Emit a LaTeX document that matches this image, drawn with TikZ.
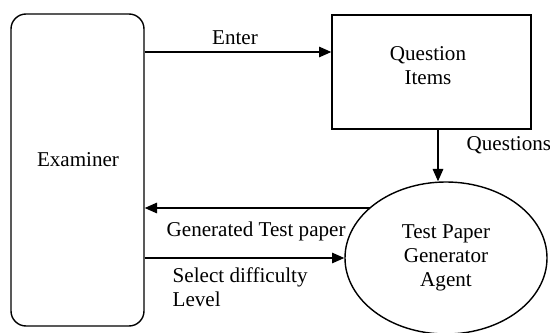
\documentclass[tikz,border=0pt]{standalone}
\usepackage{fontspec}
\setmainfont{Liberation Serif}
\usetikzlibrary{arrows.meta,shapes.geometric}
\tikzset{
  flow/.style={-{Triangle[length=7pt,width=6pt]}},
  entity/.style={draw,rounded corners=0.3cm,minimum width=2.66cm,minimum height=6.24cm},
  store/.style={draw,minimum width=3.98cm,minimum height=2.28cm},
  agentshape/.style={draw,ellipse,minimum width=4.04cm,minimum height=3.04cm,align=center,inner sep=0pt},
  lbl/.style={inner sep=0pt,align=left}
}
\begin{document}
\begin{tikzpicture}[line width=0.8pt,font=\fontsize{12}{13.6}\selectfont]
      \useasboundingbox (0,0) rectangle (11,6.64);
      \draw
        (1.55,3.24) node[entity] (exam){}
        (8.63,5.2) node[store] (qitems){}
        (8.92,1.48) node[agentshape] (agent){Test Paper\\Generator\\Agent};
      \node at (1.56,3.44) (examtxt){Examiner};
      \node[align=center] at (8.56,5.33) (qtxt){Question\\Items};
      \coordinate (gen) at (7.40,2.48);
      \begin{scope}[flow]
        \draw (exam.east |- 0,5.6) to (qitems.west |- 0,5.6);
        \draw (qitems.south -| 8.76,0) to (agent.north -| 8.76,0);
        \draw (gen) to (exam.east |- gen);
        \draw (exam.east |- agent.west) to (agent.west);
      \end{scope}
      \node at (4.7,5.88) (enter){Enter};
      \node[lbl,anchor=west] at (9.32,3.74) (quest){Questions};
      \node[lbl,anchor=west] at (3.32,2.02) (gentxt){Generated Test paper};
      \node[lbl,anchor=north west] at (3.44,1.3) (seltxt){Select difficulty\\Level};
    \end{tikzpicture}
\end{document}
